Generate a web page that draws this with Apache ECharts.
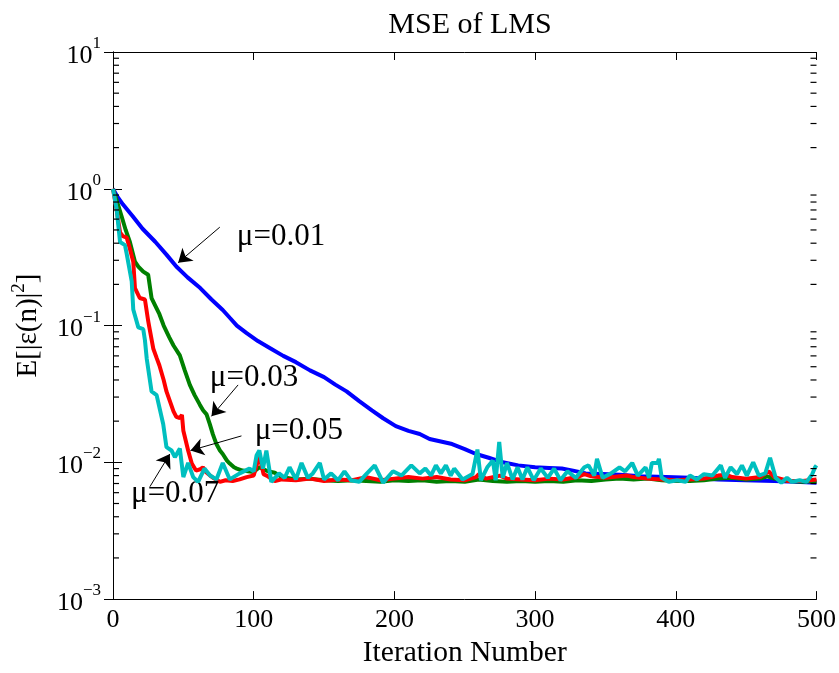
<!DOCTYPE html>
<html>
<head>
<meta charset="utf-8">
<title>MSE of LMS</title>
<script src="https://cdn.jsdelivr.net/npm/echarts@6/dist/echarts.min.js"></script>
<style>
  html, body { margin: 0; padding: 0; background: #fff; }
  #chart { width: 839px; height: 673px; }
</style>
</head>
<body>
<div id="chart"></div>
<script>
// [iteration, E|e(n)|^2]
const mu001 = [[0,1],[3,0.88],[7,0.77],[14,0.63],[21,0.51],[30,0.41],[38,0.33],[45,0.27],[53,0.225],[62,0.188],
  [70,0.155],[78,0.13],[83,0.114],[88,0.100],[95,0.088],[103,0.077],[112,0.068],[121,0.060],[130,0.054],[140,0.047],
  [150,0.042],[158,0.037],[166,0.033],[175,0.028],[184,0.024],[192,0.021],[201,0.0184],[210,0.0170],[218,0.0161],
  [225,0.0148],[233,0.0142],[241,0.0136],[250,0.0125],[258,0.0115],[267,0.0108],[277,0.0100],[288,0.0095],[300,0.0092],
  [310,0.0091],[319,0.0090],[327,0.0087],[336,0.0083],[348,0.0082],[360,0.0081],[375,0.0079],[393,0.0078],[410,0.0077],
  [430,0.0075],[449,0.0074],[470,0.0073],[485,0.0072],[500,0.0071]]

const mu003 = [[0,1],[3,0.8],[6,0.635],[9,0.5],[12,0.408],[15.6,0.293],[18,0.27],[21.5,0.248],[25,0.235],[27.4,0.159],
  [30,0.14],[33,0.121],[36,0.1],[40,0.082],[43,0.0715],[47.5,0.0605],[51,0.047],[54.6,0.0368],[58,0.031],[61.7,0.0264],
  [64,0.024],[66.5,0.0224],[68.8,0.019],[71,0.016],[73.5,0.0136],[76,0.0122],[78,0.0115],[81,0.0103],[83,0.0098],
  [86,0.0092],[88,0.0090],[92,0.0087],[96,0.0086],[100,0.0085],[104,0.0092],[110,0.0086],[115,0.0084],[120,0.0078],
  [130,0.0075],[140,0.0076],[150,0.0074],[160,0.0073],[170,0.0074],[180,0.0073],[190,0.0072],[200,0.0074],[210,0.0073],
  [220,0.0074],[230,0.0072],[240,0.0073],[250,0.0072],[260,0.0075],[270,0.0073],[280,0.0072],[290,0.0073],[300,0.0072],
  [310,0.0073],[320,0.0072],[330,0.0074],[340,0.0073],[350,0.0075],[360,0.0076],[370,0.0075],[380,0.0076],[390,0.0074],
  [400,0.0073],[410,0.0073],[420,0.0074],[430,0.0076],[440,0.0077],[450,0.0075],[460,0.0076],[465,0.0079],[470,0.0076],
  [480,0.0073],[490,0.0072],[500,0.0073]]

const mu005 = [[0,1],[2.6,0.7],[5,0.48],[7,0.45],[9.7,0.44],[12,0.365],[14.4,0.293],[15.6,0.188],[19,0.159],[22.7,0.155],
  [25,0.108],[26,0.095],[28.6,0.068],[31,0.058],[33,0.051],[36,0.04],[38,0.033],[41,0.027],[43,0.0236],[45,0.0215],
  [47.5,0.0211],[49,0.0222],[50,0.017],[53.4,0.0122],[56,0.0098],[59,0.0087],[62,0.0089],[64,0.0092],[66,0.0085],
  [69,0.008],[72,0.0076],[76,0.0072],[80,0.0074],[85,0.0073],[90,0.0075],[95,0.0078],[100,0.0080],[104,0.0112],
  [107,0.0082],[110,0.0079],[115,0.0073],[120,0.0075],[130,0.0074],[140,0.0076],[150,0.0073],[160,0.0075],[170,0.0074],
  [180,0.0078],[190,0.0074],[200,0.0076],[210,0.0078],[220,0.0076],[230,0.0078],[240,0.0075],[250,0.0074],[258,0.0078],
  [260,0.0082],[265,0.0076],[275,0.0080],[280,0.0076],[290,0.0075],[300,0.0074],[310,0.0076],[320,0.0075],[330,0.0078],
  [335,0.0082],[340,0.0079],[350,0.0077],[360,0.0079],[365,0.0080],[370,0.0078],[380,0.0076],[390,0.0075],[400,0.0074],
  [410,0.0075],[420,0.0076],[430,0.0080],[436,0.0081],[440,0.0078],[450,0.0076],[460,0.0078],[466,0.0086],[470,0.0078],
  [480,0.0073],[490,0.0073],[500,0.0075]]

const mu007 = [[0,1],[2.6,0.71],[5,0.408],[8.5,0.387],[9.7,0.336],[13.3,0.21],[14.4,0.131],[18,0.097],[21.5,0.094],
  [22.7,0.078],[24,0.057],[27.4,0.033],[31,0.031],[35.7,0.019],[38,0.0129],[41.6,0.0122],[44,0.0109],[47.5,0.0126],
  [50,0.0078],[53.4,0.0099],[57,0.0078],[60.5,0.0072],[65,0.0090],[69,0.0080],[73.5,0.0075],[78,0.0099],[83,0.0075],
  [90,0.0083],[97,0.0090],[100,0.0086],[102,0.0112],[104,0.0122],[106.6,0.0090],[109,0.0122],[112.5,0.0072],[118,0.0083],
  [122,0.0077],[125.5,0.0092],[130,0.0075],[134,0.0099],[138.5,0.0077],[142,0.0083],[147,0.0099],[150,0.0075],[155,0.0083],
  [160,0.0074],[164.5,0.0086],[169,0.0074],[175,0.0072],[180,0.0082],[186,0.0095],[192,0.0071],[199,0.0086],[205,0.0080],
  [212,0.0095],[218,0.0083],[222,0.0090],[226,0.0080],[229.5,0.0095],[233,0.0083],[236.6,0.0095],[240,0.0080],
  [242.5,0.0090],[248.5,0.0075],[255.5,0.0082],[259,0.0124],[261.5,0.0074],[266,0.0092],[270,0.0103],[272,0.0074],
  [274.5,0.0141],[277,0.0077],[280,0.0099],[284,0.0075],[287.5,0.0092],[291,0.0075],[294.5,0.0092],[299,0.0074],
  [304,0.0090],[309,0.0077],[313.5,0.0090],[318,0.0074],[323,0.0086],[329,0.0077],[335,0.0092],[338,0.0095],[342,0.0080],
  [344,0.0106],[348,0.0077],[354,0.0083],[360,0.0092],[364,0.0086],[369,0.0099],[373,0.0080],[378.5,0.0092],[381,0.0077],
  [383,0.0099],[387,0.0099],[388,0.0106],[390,0.0077],[395,0.0072],[401,0.0074],[407,0.0072],[410,0.0080],[415,0.0075],
  [420,0.0082],[426,0.0080],[432,0.0095],[435,0.0077],[439,0.0092],[443.5,0.0082],[447,0.0095],[450.5,0.0080],[455,0.0100],
  [459,0.0080],[463.6,0.0083],[467,0.0108],[471,0.0077],[475,0.0071],[479,0.0077],[482.5,0.0072],[488,0.0074],[493,0.0072],
  [497,0.0082],[499,0.0092],[500,0.0095]]

const seriesNames = ['μ=0.01', 'μ=0.03', 'μ=0.05', 'μ=0.07']
const seriesColors = ['#0000ff', '#008000', '#ff0000', '#00bfbf']

// text labels and arrows (tail -> head), in data coords
const labelPos = [[88, 0.443], [68.8, 0.0413], [100.7, 0.0169], [12.8, 0.0059]]
const arrowTail = [[75.9, 0.524], [88.9, 0.0368], [91.3, 0.0156], [26.2, 0.00663]]
const arrowHead = [[46.3, 0.288], [70, 0.0217], [55.1, 0.0122], [40.4, 0.0115]]

// log minor ticks, on the left and right frame
const decades = [0.001, 0.01, 0.1, 1]
const minorMults = [2, 3, 4, 5, 6, 7, 8, 9]
let minorTicks = []
decades.forEach((d) => {
  minorMults.forEach((m) => { minorTicks.push(d * m) })
})

const font = 'Liberation Serif'
const supStr = (e) => (e < 0 ? '\u2212' + (-e) : '' + e)

function logLabel(v) {
  const e = Math.round(Math.log10(v))
  return '{b|10}{s|' + supStr(e) + '}'
}

const labelRich = {
  b: { fontFamily: font, fontSize: 26, color: '#000', verticalAlign: 'bottom', lineHeight: 34 },
  s: { fontFamily: font, fontSize: 17, color: '#000', verticalAlign: 'top', lineHeight: 34 }
}

let series = [mu001, mu003, mu005, mu007].map((d, i) => ({
  name: seriesNames[i],
  type: 'line',
  data: d,
  showSymbol: false,
  symbol: 'none',
  lineStyle: { color: seriesColors[i], width: 4 },
  z: 2 + i
}))

// annotations
series.push({
  name: 'notes',
  type: 'line',
  data: [],
  z: 10,
  markLine: {
    silent: true,
    symbol: ['none', 'arrow'],
    symbolSize: 13,
    label: { show: false },
    lineStyle: { color: '#000', width: 1, type: 'solid' },
    data: arrowTail.map((t, i) => [{ coord: t }, { coord: arrowHead[i] }])
  },
  markPoint: {
    silent: true,
    symbol: 'circle',
    symbolSize: 0,
    label: {
      show: true,
      position: 'right',
      distance: 0,
      fontFamily: font,
      fontSize: 31,
      color: '#000'
    },
    data: labelPos.map((p, i) => ({ coord: p, value: seriesNames[i], label: { formatter: seriesNames[i] } }))
  }
})

const axisLine = { show: true, lineStyle: { color: '#000', width: 1 } }

const option = {
  animation: false,
  backgroundColor: '#fff',
  title: {
    text: 'MSE of LMS',
    left: 465,
    top: 5,
    textAlign: 'center',
    textStyle: { fontFamily: font, fontSize: 30, fontWeight: 'normal', color: '#000' }
  },
  grid: { left: 113, right: 21, top: 52, bottom: 66 },
  xAxis: [
    {
      type: 'value',
      min: 0,
      max: 500,
      interval: 100,
      name: 'Iteration Number',
      nameLocation: 'middle',
      nameGap: 33,
      nameTextStyle: { fontFamily: font, fontSize: 29.5, color: '#000' },
      axisLine: axisLine,
      axisTick: { inside: true, length: 8, lineStyle: { color: '#000' } },
      axisLabel: { fontFamily: font, fontSize: 26, color: '#000', margin: 8 },
      splitLine: { show: false }
    },
    {
      type: 'value',
      position: 'top',
      min: 0,
      max: 500,
      interval: 100,
      axisLine: axisLine,
      axisTick: { inside: true, length: 8, lineStyle: { color: '#000' } },
      axisLabel: { show: false },
      splitLine: { show: false }
    }
  ],
  yAxis: [
    {
      type: 'log',
      logBase: 10,
      min: 0.001,
      max: 10,
      name: 'E[|ε(n)|{s|2}]',
      nameLocation: 'middle',
      nameRotate: 90,
      nameGap: 64,
      nameTextStyle: {
        fontFamily: font, fontSize: 29, color: '#000', verticalAlign: 'bottom', lineHeight: 36,
        rich: { s: { fontFamily: font, fontSize: 19, color: '#000', verticalAlign: 'top', lineHeight: 36 } }
      },
      axisLine: axisLine,
      axisTick: { inside: true, length: 9, lineStyle: { color: '#000' } },
      axisLabel: { formatter: logLabel, rich: labelRich, margin: 12 },
      splitLine: { show: false }
    },
    {
      type: 'log',
      logBase: 10,
      min: 0.001,
      max: 10,
      position: 'right',
      axisLine: axisLine,
      axisTick: { inside: true, length: 9, lineStyle: { color: '#000' } },
      axisLabel: { show: false },
      splitLine: { show: false }
    }
  ],
  series: series
}

const myChart = echarts.init(document.getElementById('chart'))
myChart.setOption(option)

// minor ticks placed through the axis scales
const xLeft = myChart.convertToPixel({ xAxisIndex: 0 }, 0)
const xRight = myChart.convertToPixel({ xAxisIndex: 0 }, 500)
let tickGraphics = []
minorTicks.forEach((v) => {
  const y = myChart.convertToPixel({ yAxisIndex: 0 }, v)
  tickGraphics.push({ type: 'line', z: 100, silent: true, shape: { x1: xLeft, y1: y, x2: xLeft + 6, y2: y }, style: { stroke: '#000', lineWidth: 1.2 } })
  tickGraphics.push({ type: 'line', z: 100, silent: true, shape: { x1: xRight, y1: y, x2: xRight - 6, y2: y }, style: { stroke: '#000', lineWidth: 1.2 } })
})
myChart.setOption({ graphic: tickGraphics })
</script>
</body>
</html>
